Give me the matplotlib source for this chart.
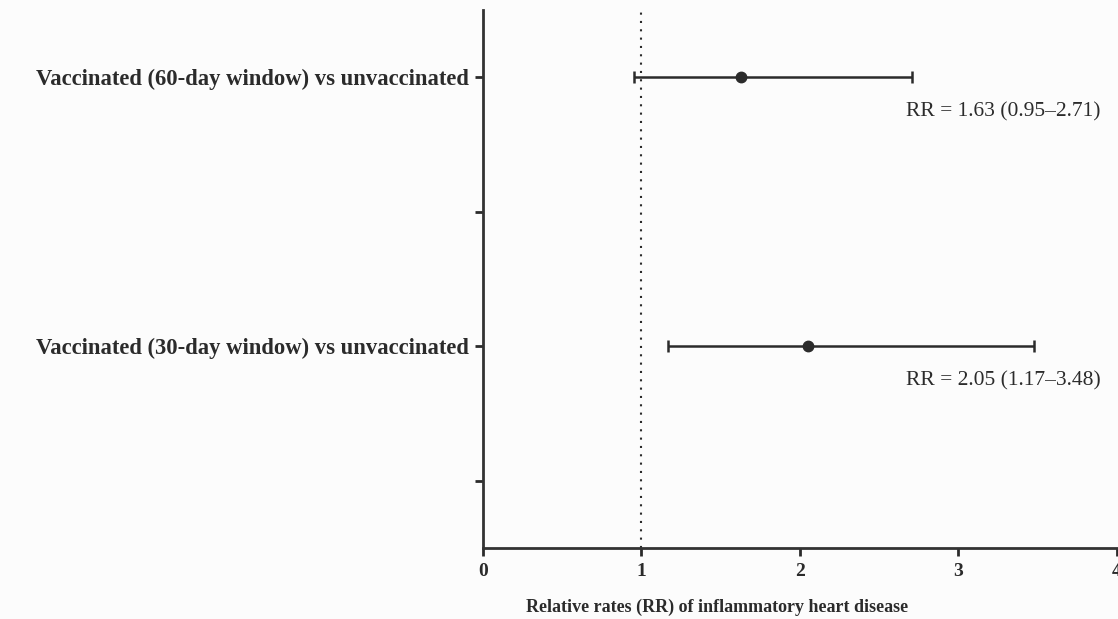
import matplotlib.pyplot as plt

# data
labels = ["Vaccinated (60-day window) vs unvaccinated",
          "Vaccinated (30-day window) vs unvaccinated"]
rr = [1.63, 2.05]
lo = [0.95, 1.17]
hi = [2.71, 3.48]
ypos = [3, 1]
yticks = [0, 1, 2, 3]
xticks = [0, 1, 2, 3, 4]

plt.rcParams['font.family'] = ['Liberation Serif', 'DejaVu Serif']
dark = "#2b2b2b"
bg = "#fcfcfc"

fig = plt.figure(figsize=(11.18, 6.19), dpi=100, facecolor=bg)
ax = fig.add_axes([0.432, 0.1147, 0.567, 0.869], facecolor=bg)

# reference line at RR = 1
ax.axvline(1, color=dark, linestyle=(0, (1, 3)), linewidth=1.5, zorder=1)

for i in range(len(rr)):
    ax.errorbar(rr[i], ypos[i],
                xerr=[[rr[i] - lo[i]], [hi[i] - rr[i]]],
                fmt="o", color=dark, ecolor=dark, markersize=7.5,
                elinewidth=1.8, capsize=4.5, capthick=1.8, zorder=3)
    ax.text(2.67, ypos[i] - 0.26,
            "RR = %.2f (%.2f\u2013%.2f)" % (rr[i], lo[i], hi[i]),
            fontsize=15.5, color=dark, ha="left", va="center")

ax.set_xlim(0, 4)
ax.set_ylim(-0.5, 3.5)
ax.set_xticks(xticks)
ax.set_xticklabels([str(t) for t in xticks], fontweight="bold", fontsize=14)
ax.set_yticks(yticks)
ax.set_yticklabels(["", labels[1], "", labels[0]], fontweight="bold", fontsize=16.3)

for s in ["top", "right"]:
    ax.spines[s].set_visible(False)
for s in ["left", "bottom"]:
    ax.spines[s].set_linewidth(2)
    ax.spines[s].set_color("#333333")
ax.tick_params(axis="both", colors=dark, width=2, length=6)
ax.tick_params(axis="y", pad=4)
ax.tick_params(axis="x", pad=5)

fig.text(717 / 1118, 1 - 607 / 619, "Relative rates (RR) of inflammatory heart disease",
         fontweight="bold", fontsize=13, color=dark, ha="center", va="center")

fig.savefig("out.png", dpi=100, facecolor=bg)
